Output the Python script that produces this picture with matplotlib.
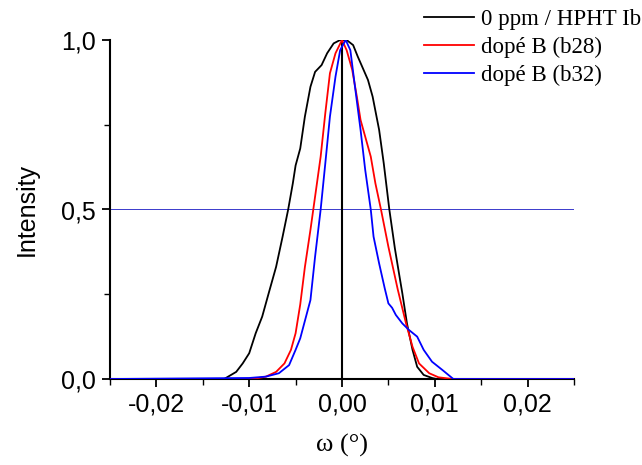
import matplotlib
matplotlib.use("Agg")
import matplotlib.pyplot as plt
from matplotlib.ticker import FuncFormatter, MultipleLocator

# Data
black_x = [-0.025, -0.0127, -0.0114, -0.0107, -0.0100, -0.0093, -0.0086, -0.0079, -0.0071, -0.0064,
           -0.0058, -0.0053, -0.0050, -0.0045, -0.0040, -0.0034, -0.0029, -0.0022, -0.0016,
           -0.0009, -0.0002, 0.0005, 0.0012, 0.0017, 0.0021, 0.0028, 0.0033, 0.0040, 0.0045,
           0.0051, 0.0057, 0.0062, 0.0065, 0.0070, 0.0076, 0.0081, 0.0088, 0.0097, 0.0102, 0.025]
black_y = [0.0, 0.0, 0.021, 0.046, 0.076, 0.135, 0.184, 0.253, 0.331, 0.42,
           0.50, 0.577, 0.63, 0.68, 0.774, 0.862, 0.906, 0.926, 0.961,
           0.99, 1.0, 1.0, 0.985, 0.951, 0.926, 0.882, 0.833, 0.735, 0.636,
           0.50, 0.385, 0.302, 0.253, 0.164, 0.086, 0.036, 0.012, 0.003, 0.0, 0.0]

red_x = [-0.025, -0.0100, -0.0092, -0.0082, -0.0071, -0.0062, -0.0055, -0.0050, -0.0045, -0.0040,
         -0.0034, -0.0029, -0.0023, -0.0018, -0.0013, -0.0007, 0.0, 0.0005, 0.0011, 0.0016,
         0.0020, 0.0025, 0.0031, 0.0036, 0.0042, 0.0050, 0.0060, 0.0069, 0.0076, 0.0083,
         0.0094, 0.0104, 0.0119, 0.025]
red_y = [0.0, 0.0, 0.002, 0.007, 0.021, 0.046, 0.086, 0.135, 0.22, 0.33,
         0.44, 0.538, 0.656, 0.784, 0.902, 0.961, 1.0, 0.97, 0.912, 0.833,
         0.764, 0.715, 0.656, 0.577, 0.50, 0.39, 0.265, 0.164, 0.095, 0.046,
         0.017, 0.005, 0.0, 0.0]

blue_x = [-0.025, -0.0100, -0.0082, -0.0068, -0.0057, -0.0050, -0.0045, -0.0034, -0.0029, -0.0023,
          -0.0018, -0.0013, -0.0007, -0.0002, 0.0004, 0.0009, 0.0014, 0.0020, 0.0025, 0.0031,
          0.0034, 0.0040, 0.0046, 0.0050, 0.0054, 0.0058, 0.0065, 0.0072, 0.0081, 0.0088,
          0.0097, 0.0108, 0.0120, 0.025]
blue_y = [0.0, 0.003, 0.007, 0.017, 0.041, 0.086, 0.12, 0.233, 0.361, 0.50,
          0.636, 0.774, 0.892, 0.97, 1.0, 0.97, 0.862, 0.735, 0.617, 0.50,
          0.42, 0.341, 0.268, 0.223, 0.21, 0.189, 0.164, 0.145, 0.125, 0.086,
          0.051, 0.027, 0.0, 0.0]

labels = ["0 ppm / HPHT Ib", "dopé B (b28)", "dopé B (b32)"]
colors = ["black", "red", "blue"]

fig = plt.figure(figsize=(6.42, 4.65), dpi=100)
ax = fig.add_axes([110/642, 1-379/465, (574-110)/642, (379-40)/465])

ax.axhline(0.5, color="#3a3acc", lw=0.7, zorder=1)
ax.plot([0, 0], [0, 1], color="black", lw=1.5, zorder=2)
for xs, ys, c, l in zip([black_x, red_x, blue_x], [black_y, red_y, blue_y], colors, labels):
    ax.plot(xs, ys, color=c, lw=1.3, label=l, zorder=3)

ax.set_xlim(-0.025, 0.025)
ax.set_ylim(0, 1.0)
for s in ["top", "right"]:
    ax.spines[s].set_visible(False)
for s in ["left", "bottom"]:
    ax.spines[s].set_linewidth(1.5)

ax.xaxis.set_major_locator(MultipleLocator(0.01))
ax.xaxis.set_minor_locator(MultipleLocator(0.005))
ax.yaxis.set_major_locator(MultipleLocator(0.5))
ax.yaxis.set_minor_locator(MultipleLocator(0.25))

def fmt(v, pos, nd):
    s = f"{v:.{nd}f}"
    if s.startswith("-") and float(s) == 0:
        s = s[1:]
    return s.replace(".", ",")

ax.xaxis.set_major_formatter(FuncFormatter(lambda v, p: fmt(v, p, 2)))
ax.yaxis.set_major_formatter(FuncFormatter(lambda v, p: fmt(v, p, 1)))
ax.tick_params(which="major", direction="out", length=6, width=1.3, labelsize=18, pad=4)
ax.tick_params(which="minor", direction="out", length=4, width=1.0)
for t in ax.get_xticklabels() + ax.get_yticklabels():
    t.set_family("Liberation Sans")

ax.set_ylabel("Intensity", fontsize=18, family="Liberation Sans", labelpad=16)
ax.set_xlabel("ω (°)", fontsize=19, family="Liberation Serif", labelpad=12)

leg = fig.legend(loc="upper left", bbox_to_anchor=(410/642, 1.01), frameon=False,
                 prop={"family": "Liberation Serif", "size": 16.5}, handlelength=2.2,
                 handletextpad=0.3, labelspacing=0.3, borderaxespad=0.2)

fig.savefig("out.png", dpi=100)
